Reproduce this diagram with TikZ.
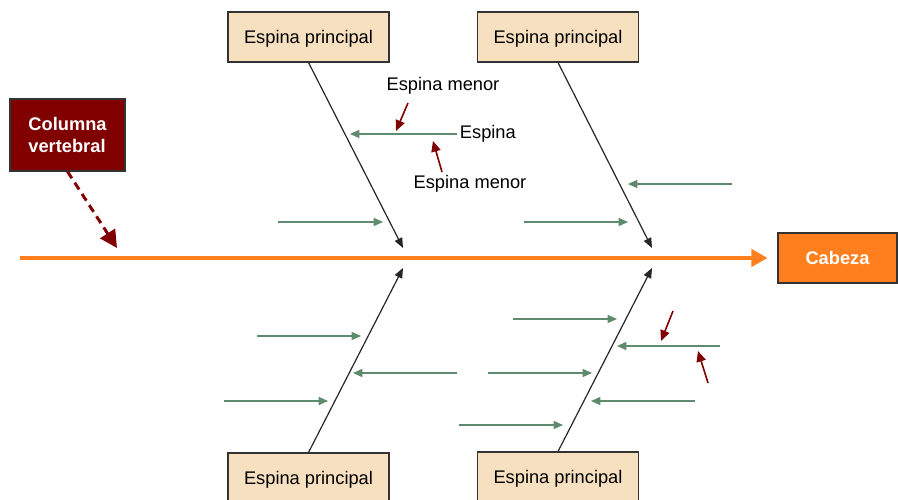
\documentclass[tikz,border=0pt]{standalone}
\usepackage{fontspec}
\setmainfont{Liberation Sans}
\usetikzlibrary{arrows.meta, positioning, calc}
\definecolor{spineorange}{RGB}{255, 127, 30}
\definecolor{backred}{RGB}{128, 0, 0}
\definecolor{bonefill}{RGB}{247, 224, 192}
\definecolor{ribgreen}{RGB}{94, 138, 110}

\begin{document}
\begin{tikzpicture}[x=0.75pt, y=-0.75pt, font=\fontsize{13.7}{16}\selectfont,
    bonebox/.style={fill=bonefill, draw=black!80, line width=0.8pt,
                    minimum width=120.75pt, minimum height=37.5pt,
                    text height=12.5pt, text depth=2.5pt},
    bone/.style={-{Triangle[length=7.5pt, width=6pt]}, line width=0.9pt, black!85},
    rib/.style={-{Triangle[length=7pt, width=6pt]}, line width=1.1pt, ribgreen},
    minor/.style={-{Triangle[length=8pt, width=7pt]}, line width=1.2pt, backred}]
    \useasboundingbox (0,0) rectangle (898,499);

    % Boxes
    \node[fill=backred, draw=black!80, line width=0.8pt, minimum width=86.25pt,
          minimum height=54pt, align=left, text=white, font=\fontsize{13.7}{17}\selectfont\bfseries]
          (columna) at (67.5,135) {Columna\\vertebral};
    \node[fill=spineorange, draw=black!80, line width=0.8pt, minimum width=89.25pt,
          minimum height=37.5pt, text=white, font=\fontsize{13.7}{16}\selectfont\bfseries]
          (cabeza) at (837.5,258) {Cabeza};

    \node[bonebox] (topleft) at (308.5,37) {Espina principal};
    \node[bonebox] (topright) at (558,37) {Espina principal};
    \node[bonebox] (botleft) at (308.5,478) {Espina principal};
    \node[bonebox] (botright) at (558,477) {Espina principal};

    % Spine
    \coordinate (tail) at (20,258);
    \draw[spineorange, line width=2.4pt, shorten >=7.5pt,
          -{Triangle[length=12pt, width=13pt]}] (tail) -- (cabeza.west);
    \coordinate (entry) at (117,248);
    \draw[backred, line width=2.2pt, dash pattern=on 6pt off 4pt,
          -{Triangle[length=13pt, width=13pt]}] (columna.south) -- (entry);

    % Main bones
    \coordinate (tl) at (403,248);
    \coordinate (tr) at (652,248);
    \coordinate (bl) at (403,268);
    \coordinate (br) at (652,268);
    \draw[bone] (topleft.south) -- (tl);
    \draw[bone] (topright.south) -- (tr);
    \draw[bone] (botleft.north) -- (bl);
    \draw[bone] (botright.north) -- (br);

    % Ribs
    \node[anchor=west, inner sep=2pt] (espina) at (457,134) {Espina};
    \coordinate (ribtip) at (350,134);
    \draw[rib] (espina.west) -- (ribtip);
    \foreach \r/\sx/\ex/\y in {a/278/383/222, b/732/628/184, c/524/628/222,
                              d/257/361/336, e/457/353/373, f/224/328/401,
                              g/513/617/319, h/720/617/346, i/488/592/373,
                              j/695/591/401, k/459/563/425} {
        \coordinate (\r s) at (\sx,\y);
        \coordinate (\r e) at (\ex,\y);
        \draw[rib] (\r s) -- (\r e);
    }

    % Minor ribs
    \node (menorup) at (443,86) {Espina menor};
    \node (menordown) at (470,184) {Espina menor};
    \coordinate (m1s) at (408,103);
    \coordinate (m1e) at (396,131);
    \coordinate (m2s) at (442,172);
    \coordinate (m2e) at (433,141);
    \coordinate (m3s) at (673,311);
    \coordinate (m3e) at (661,341);
    \coordinate (m4s) at (708,383);
    \coordinate (m4e) at (698,351);
    \draw[minor] (m1s) -- (m1e);
    \draw[minor] (m2s) -- (m2e);
    \draw[minor] (m3s) -- (m3e);
    \draw[minor] (m4s) -- (m4e);
\end{tikzpicture}
\end{document}
